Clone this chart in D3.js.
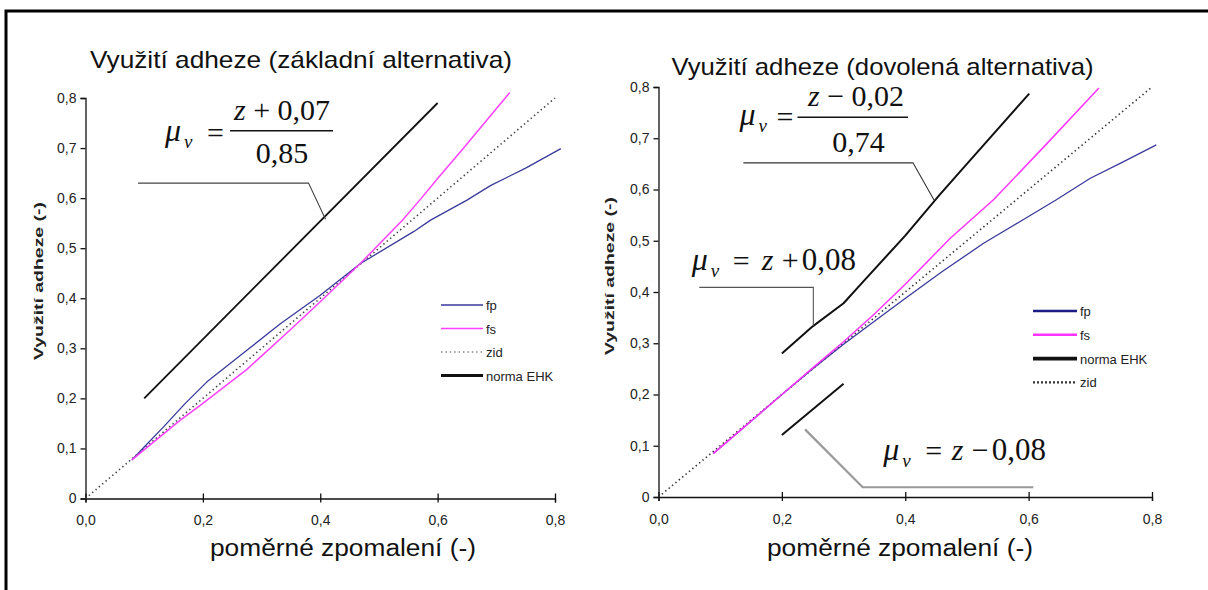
<!DOCTYPE html>
<html>
<head>
<meta charset="utf-8">
<script src="https://cdn.jsdelivr.net/npm/d3@7/dist/d3.min.js"></script>
<style>
  body { margin: 0; background: #fff; }
  svg { display: block; }
</style>
</head>
<body>
<div id="chart"></div>
<script>
// ---- data (z = poměrné zpomalení, mu = využití adheze)
const xTicks = [0, 0.2, 0.4, 0.6, 0.8];
const yTicks = [0, 0.1, 0.2, 0.3, 0.4, 0.5, 0.6, 0.7, 0.8];
const titles = ["Využití adheze (základní alternativa)", "Využití adheze (dovolená alternativa)"];
const xTitle = "poměrné zpomalení (-)";
const yTitle = "Využití adheze (-)";

// left panel
const leftFp = [[0.079, 0.077], [0.1, 0.103], [0.133, 0.143], [0.17, 0.19], [0.207, 0.233], [0.275, 0.296], [0.332, 0.349],
  [0.4, 0.406], [0.468, 0.469], [0.559, 0.533], [0.588, 0.556], [0.65, 0.596], [0.69, 0.625], [0.75, 0.66], [0.81, 0.699]];
const leftFs = [[0.079, 0.077], [0.161, 0.156], [0.2, 0.19], [0.275, 0.258], [0.35, 0.338], [0.4, 0.393],
  [0.468, 0.469], [0.54, 0.556], [0.571, 0.598], [0.6, 0.639], [0.645, 0.701], [0.723, 0.811]];
const leftZid = [[0, 0], [0.8, 0.8]];
const leftNorma = [[0.1, 0.2], [0.6, 0.79]];
const leftLeader = [[0.0895, 0.63], [0.38, 0.63], [0.409, 0.558]];
const leftLegend = ["fp", "fs", "zid", "norma EHK"];

// right panel
const rightFp = [[0.089, 0.085], [0.15, 0.148], [0.2, 0.2], [0.25, 0.25], [0.3, 0.298], [0.35, 0.343],
  [0.397, 0.385], [0.46, 0.44], [0.527, 0.495], [0.591, 0.541], [0.645, 0.58], [0.7, 0.622], [0.75, 0.652], [0.807, 0.687]];
const rightFs = [[0.089, 0.085], [0.15, 0.148], [0.2, 0.2], [0.25, 0.252], [0.3, 0.303], [0.35, 0.357],
  [0.4, 0.415], [0.473, 0.505], [0.543, 0.58], [0.63, 0.69], [0.714, 0.798]];
const rightZid = [[0, 0], [0.8, 0.8]];
const rightNorma = [[0.2, 0.28], [0.25, 0.333], [0.3, 0.378], [0.327, 0.414], [0.4, 0.51], [0.456, 0.59], [0.5, 0.65], [0.601, 0.787]];
const rightNormaLow = [[0.2, 0.121], [0.3, 0.221]];
const rightLeaders = [
  [[0.1376, 0.652], [0.4125, 0.652], [0.4466, 0.5795]],
  [[0.0661, 0.409], [0.251, 0.409], [0.251, 0.334]],
  [[0.2375, 0.132], [0.331, 0.019], [0.6076, 0.019]]
];
const rightLegend = ["fp", "fs", "norma EHK", "zid"];

// formula texts
const fracLeft = { num: ["z", " + 0,07"], den: "0,85" };
const fracRight = { num: ["z", " \u2212 0,02"], den: "0,74" };
const lineUpper = ["z", "+", "0,08"];
const lineLower = ["z", "\u2212", "0,08"];

// ---- layout
const W = 1208, H = 590;
const svg = d3.select("#chart").append("svg").attr("width", W).attr("height", H);

svg.append("rect")
  .attr("x", 6).attr("y", 11).attr("width", W + 20).attr("height", H + 20)
  .attr("fill", "none").attr("stroke", "#000").attr("stroke-width", 3);

const fmtX = d => d3.format(".1f")(d).replace(".", ",");
const fmtY = d => (d === 0 ? "0" : d3.format(".1f")(d).replace(".", ","));

const styles = {
  left: {
    fp: { stroke: "#3a3a9c", width: 1.3 },
    fs: { stroke: "#ff40ff", width: 1.5 },
    zid: { stroke: "#444", width: 1.6, dash: "1.4,3" },
    norma: { stroke: "#111", width: 1.8 },
    legend: { fp: 1.5, fs: 1.6, zid: 1.2, "norma EHK": 3.2 }
  },
  right: {
    fp: { stroke: "#3a3a9c", width: 1.3 },
    fs: { stroke: "#ff33ff", width: 1.5 },
    zid: { stroke: "#333", width: 1.6, dash: "1.4,3" },
    norma: { stroke: "#111", width: 2 },
    legend: { fp: 2.6, fs: 2.4, zid: 2.4, "norma EHK": 3.6 }
  }
};

const panel = cfg => {
  const x = d3.scaleLinear().domain([0, 0.8]).range(cfg.xr);
  const y = d3.scaleLinear().domain([0, 0.8]).range(cfg.yr);
  const g = svg.append("g");

  // axes
  const xa = g.append("g").attr("transform", `translate(0,${cfg.yr[0]})`)
    .call(d3.axisBottom(x).tickValues(xTicks).tickFormat(fmtX).tickSize(4).tickPadding(13));
  xa.selectAll(".tick line").attr("y1", -5);
  const ya = g.append("g").attr("transform", `translate(${cfg.xr[0]},0)`)
    .call(d3.axisLeft(y).tickValues(yTicks).tickFormat(fmtY).tickSize(5).tickPadding(4));
  [xa, ya].forEach(a => {
    a.select(".domain").attr("stroke", "#111").attr("stroke-width", 1.3);
    a.selectAll(".tick line").attr("stroke", "#111").attr("stroke-width", 1.3);
    a.selectAll("text").attr("font-family", "Liberation Sans, Arial, sans-serif")
      .attr("font-size", 14).attr("fill", "#222");
  });

  // titles
  g.append("text").attr("x", cfg.titleX).attr("y", cfg.titleY).attr("text-anchor", "middle")
    .attr("font-family", "Liberation Sans, Arial, sans-serif").attr("font-size", 24).attr("fill", "#111")
    .attr("textLength", 422).attr("lengthAdjust", "spacingAndGlyphs")
    .text(cfg.title);
  g.append("text").attr("x", cfg.xTitleX).attr("y", 556).attr("text-anchor", "middle")
    .attr("font-family", "Liberation Sans, Arial, sans-serif").attr("font-size", 23).attr("fill", "#111")
    .attr("textLength", 266).attr("lengthAdjust", "spacingAndGlyphs")
    .text(xTitle);
  g.append("text")
    .attr("transform", `translate(${cfg.yTitleX},${cfg.yTitleY}) rotate(-90)`)
    .attr("text-anchor", "middle")
    .attr("font-family", "Liberation Sans, Arial, sans-serif").attr("font-size", 12.5)
    .attr("font-weight", "bold").attr("fill", "#222")
    .attr("textLength", 158).attr("lengthAdjust", "spacingAndGlyphs")
    .text(yTitle);

  const line = d3.line().x(d => x(d[0])).y(d => y(d[1]));
  const st = styles[cfg.side];
  const draw = (data, s) =>
    g.append("path").datum(data).attr("d", line).attr("fill", "none")
      .attr("stroke", s.stroke).attr("stroke-width", s.width)
      .attr("stroke-dasharray", s.dash || null)
      .attr("stroke-linejoin", "round");

  draw(cfg.zid, st.zid);
  draw(cfg.fp, st.fp);
  draw(cfg.fs, st.fs);
  cfg.norma.forEach(n => draw(n, st.norma));

  // leader lines
  cfg.leaders.forEach((l, i) =>
    g.append("path").datum(l).attr("d", line).attr("fill", "none")
      .attr("stroke", cfg.leaderColors[i]).attr("stroke-width", cfg.leaderWidths[i]));

  // legend
  const lg = g.append("g").attr("transform", `translate(${cfg.legend[0]},${cfg.legend[1]})`);
  cfg.legendItems.forEach((name, i) => {
    const key = name === "norma EHK" ? "norma" : name;
    const s = st[key];
    lg.append("line").attr("x1", 0).attr("x2", cfg.legendLen).attr("y1", i * cfg.legendStep).attr("y2", i * cfg.legendStep)
      .attr("stroke", key === "fp" && cfg.side === "right" ? "#1c1c86" : s.stroke)
      .attr("stroke-width", st.legend[name])
      .attr("stroke-dasharray", key === "zid" ? (cfg.side === "right" ? "2,2" : "1.4,3") : null);
    lg.append("text").attr("x", cfg.legendLen + 3).attr("y", i * cfg.legendStep + 5)
      .attr("font-family", "Liberation Sans, Arial, sans-serif").attr("font-size", 13).attr("fill", "#222")
      .text(name);
  });
  return { g, x, y };
};

const serif = "Liberation Serif, Times New Roman, serif";
const mu = (g, px, py) => {
  g.append("text").attr("x", px).attr("y", py).attr("font-family", serif).attr("font-size", 32)
    .attr("font-style", "italic").attr("fill", "#111").text("\u03bc");
  g.append("text").attr("x", px + 19).attr("y", py + 7).attr("font-family", serif).attr("font-size", 19)
    .attr("font-style", "italic").attr("fill", "#111").text("v");
};
const fraction = (p, at, f, o) => {
  const px = p.x(at[0]), py = p.y(at[1]);
  mu(p.g, px, py);
  p.g.append("text").attr("x", px + o.eq).attr("y", py + 2).attr("font-family", serif).attr("font-size", 30)
    .attr("fill", "#111").text("=");
  p.g.append("line").attr("x1", px + o.bar[0]).attr("x2", px + o.bar[1])
    .attr("y1", py + o.barY).attr("y2", py + o.barY).attr("stroke", "#111").attr("stroke-width", 1.5);
  const num = p.g.append("text").attr("x", px + o.cx).attr("y", py + o.numY).attr("text-anchor", "middle")
    .attr("font-family", serif).attr("font-size", 30).attr("fill", "#111");
  num.append("tspan").attr("font-style", "italic").text(f.num[0]);
  num.append("tspan").text(f.num[1]);
  p.g.append("text").attr("x", px + o.dcx).attr("y", py + o.denY).attr("text-anchor", "middle")
    .attr("font-family", serif).attr("font-size", 30).attr("fill", "#111").text(f.den);
};
const inline = (p, at, parts, o) => {
  const px = p.x(at[0]), py = p.y(at[1]);
  mu(p.g, px, py);
  p.g.append("text").attr("x", px + o.eq).attr("y", py + 1).attr("font-family", serif).attr("font-size", 30)
    .attr("fill", "#111").text("=");
  p.g.append("text").attr("x", px + o.z).attr("y", py).attr("font-family", serif).attr("font-size", 30)
    .attr("font-style", "italic").attr("fill", "#111").text(parts[0]);
  p.g.append("text").attr("x", px + o.op).attr("y", py).attr("font-family", serif).attr("font-size", 30)
    .attr("fill", "#111").text(parts[1]);
  p.g.append("text").attr("x", px + o.n).attr("y", py).attr("font-family", serif).attr("font-size", 31)
    .attr("fill", "#111").text(parts[2]);
};

// left chart
const L = panel({
  side: "left", xr: [85.5, 555], yr: [498.5, 98],
  title: titles[0], titleX: 301, titleY: 68, xTitleX: 343, yTitleX: 43, yTitleY: 281,
  fp: leftFp, fs: leftFs, zid: leftZid, norma: [leftNorma],
  leaders: [leftLeader], leaderColors: ["#444"], leaderWidths: [1.1],
  legend: [441, 305], legendLen: 42, legendStep: 23.5, legendItems: leftLegend
});
fraction(L, [0.1355, 0.714], fracLeft, { eq: 42, bar: [65, 168], barY: -10.3, cx: 117, numY: -21, dcx: 117, denY: 22 });

// right chart
const R = panel({
  side: "right", xr: [658.5, 1152], yr: [497, 87],
  title: titles[1], titleX: 882.5, titleY: 75, xTitleX: 900, yTitleX: 614, yTitleY: 276,
  fp: rightFp, fs: rightFs, zid: rightZid, norma: [rightNorma, rightNormaLow],
  leaders: rightLeaders, leaderColors: ["#333", "#555", "#999"], leaderWidths: [1.1, 1.1, 2.2],
  legend: [1033, 311], legendLen: 44, legendStep: 23.8, legendItems: rightLegend
});
fraction(R, [0.1313, 0.726], fracRight, { eq: 37, bar: [58, 168.5], barY: -7.7, cx: 116.5, numY: -19, dcx: 119, denY: 27 });
inline(R, [0.0538, 0.443], lineUpper, { eq: 41, z: 70, op: 90, n: 110 });
inline(R, [0.3644, 0.0722], lineLower, { eq: 42, z: 68.4, op: 88.4, n: 108.4 });
</script>
</body>
</html>
